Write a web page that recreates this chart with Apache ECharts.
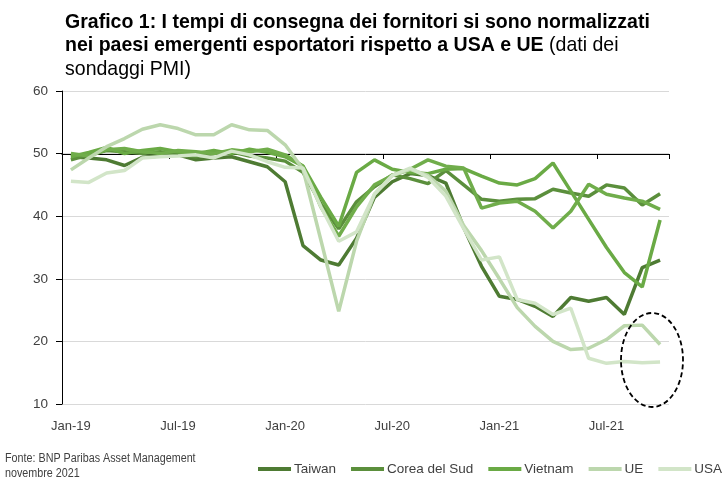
<!DOCTYPE html>
<html>
<head>
<meta charset="utf-8">
<script src="https://cdn.jsdelivr.net/npm/echarts@6/dist/echarts.min.js"></script>
<style>
html,body{margin:0;padding:0;background:#fff;}
#c{width:725px;height:491px;}
</style>
</head>
<body>
<div id="c"></div>
<script>
const categories = ['Jan-19','Feb-19','Mar-19','Apr-19','May-19','Jun-19','Jul-19','Aug-19','Sep-19','Oct-19','Nov-19','Dec-19',
  'Jan-20','Feb-20','Mar-20','Apr-20','May-20','Jun-20','Jul-20','Aug-20','Sep-20','Oct-20','Nov-20','Dec-20',
  'Jan-21','Feb-21','Mar-21','Apr-21','May-21','Jun-21','Jul-21','Aug-21','Sep-21','Oct-21'];
const yTicks = [10, 20, 30, 40, 50, 60];
const taiwan = [49.5,49.3,49.0,48.1,49.4,49.6,49.8,49.0,49.3,49.5,48.7,47.9,
  45.5,35.3,33.0,32.2,36.5,43.0,45.5,46.8,46.5,45.3,38.2,32.0,
  27.2,26.7,25.6,24.0,27.0,26.4,27.0,24.3,31.8,33.0];
const corea = [49.0,49.8,50.5,50.3,50.0,50.3,49.8,49.5,50.0,50.3,49.6,49.3,
  48.8,47.0,42.0,38.0,42.3,44.7,46.6,46.0,45.2,47.3,45.0,42.7,
  42.4,42.7,42.8,44.3,43.7,43.2,45.0,44.5,41.8,43.6];
const vietnam = [49.5,50.2,51.0,50.0,50.5,50.8,50.3,50.0,50.5,50.0,50.7,50.2,
  49.5,48.0,43.0,38.4,47.0,49.0,47.5,47.0,46.8,47.5,47.6,46.4,
  45.3,45.0,46.0,48.5,44.0,39.5,35.0,31.0,28.7,39.4];
const serie4 = [50.0,49.6,50.6,50.8,50.3,50.0,50.5,50.3,50.0,50.6,50.3,50.7,
  49.8,48.0,41.5,36.8,41.5,45.0,46.5,47.5,49.0,48.0,47.7,41.3,
  42.1,42.4,40.8,38.1,40.8,45.1,43.5,42.9,42.4,41.1];
const ue = [47.4,49.3,51.1,52.4,53.9,54.6,54.0,53.0,53.0,54.6,53.8,53.7,
  51.4,47.5,36.2,24.8,36.0,43.5,46.5,47.5,46.5,44.0,38.5,34.5,
  30.0,25.4,22.4,20.0,18.7,18.9,20.3,22.5,22.6,19.5];
const usa = [45.6,45.4,46.9,47.3,49.3,49.5,49.6,49.8,49.3,50.4,49.8,48.7,
  47.8,47.7,41.5,36.0,37.5,43.5,46.5,47.7,46.2,43.2,38.0,33.0,
  33.5,26.7,26.1,24.3,25.3,17.3,16.5,16.8,16.6,16.7];

const FONT = '"Liberation Sans",Arial,sans-serif';
const chart = echarts.init(document.getElementById('c'));

function line(name, data, color) {
  return {
    name: name, type: 'line', data: data, xAxisIndex: 0, yAxisIndex: 0,
    symbol: 'none', showSymbol: false, smooth: false,
    lineStyle: { color: color, width: 3.5 }, itemStyle: { color: color },
    emphasis: { disabled: true }
  };
}

chart.setOption({
  animation: false,
  backgroundColor: '#fff',
  grid: { left: 62, right: 56, top: 91, bottom: 87, containLabel: false },
  legend: {
    left: 253, top: 457, width: 480,
    data: ['Taiwan', 'Corea del Sud', 'Vietnam', 'UE', 'USA'],
    icon: 'rect', itemWidth: 33, itemHeight: 4, itemGap: 15,
    textStyle: { fontFamily: FONT, fontSize: 13.5, color: '#404040', padding: [0, 0, 0, -2] },
    selectedMode: false
  },
  xAxis: [
    {
      type: 'category', data: categories, boundaryGap: true, position: 'bottom',
      axisLine: { show: false }, axisTick: { show: false },
      axisLabel: { interval: 5, margin: 16, fontFamily: FONT, fontSize: 13, color: '#404040' },
      splitLine: { show: false }
    },
    {
      type: 'category', data: categories, boundaryGap: true, position: 'bottom', offset: -250,
      axisLine: { show: true, lineStyle: { color: '#000', width: 1 } },
      axisTick: { show: true, interval: 5, length: 5, lineStyle: { color: '#000' } },
      axisLabel: { show: false },
      splitLine: { show: false }
    }
  ],
  yAxis: {
    type: 'value', min: yTicks[0], max: yTicks[yTicks.length - 1], interval: 10,
    axisLine: { show: true, lineStyle: { color: '#000', width: 1 } },
    axisTick: { show: true, length: 6, lineStyle: { color: '#000' } },
    axisLabel: { margin: 14, fontFamily: FONT, fontSize: 13.5, color: '#404040' },
    splitLine: { show: true, lineStyle: { color: '#d9d9d9', width: 1 } }
  },
  graphic: [
    {
      type: 'text', x: 65, y: 10, scaleX: 0.93, scaleY: 1, z: 100,
      style: {
        text: '{b|Grafico 1: I tempi di consegna dei fornitori si sono normalizzati}\n{b|nei paesi emergenti esportatori rispetto a USA e UE}{r| (dati dei}\n{r|sondaggi PMI)}',
        verticalAlign: 'top', align: 'left',
        rich: {
          b: { fontFamily: FONT, fontWeight: 'bold', fontSize: 21, fill: '#000', lineHeight: 23.5 },
          r: { fontFamily: FONT, fontWeight: 'normal', fontSize: 21, fill: '#000', lineHeight: 23.5 }
        }
      }
    },
    {
      type: 'text', x: 5, y: 451, scaleX: 0.86, z: 100,
      style: { text: 'Fonte: BNP Paribas Asset Management\nnovembre 2021', font: '12.5px ' + FONT, fill: '#404040', lineHeight: 15, verticalAlign: 'top' }
    },
    { type: 'ellipse', shape: { cx: 652, cy: 360, rx: 31, ry: 47 }, style: { fill: 'none', stroke: '#000', lineWidth: 1.8, lineDash: [5, 3] }, z: 100 }
  ],
  series: [
    line('Taiwan', taiwan, '#4e7b33'),
    line('Corea del Sud', corea, '#5b8f3c'),
    line('Vietnam', vietnam, '#6aaa45'),
    line('serie4', serie4, '#70ad4b'),
    line('UE', ue, '#bcd7ad'),
    line('USA', usa, '#d2e5c8')
  ]
});
</script>
</body>
</html>
